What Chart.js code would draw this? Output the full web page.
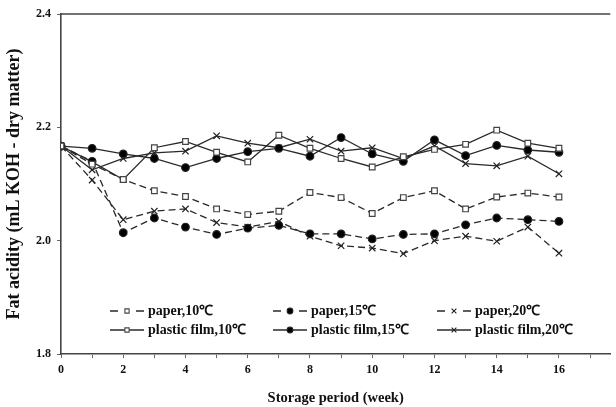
<!DOCTYPE html>
<html lang="en">
<head>
  <meta charset="UTF-8"/>
  <title>Fat acidity during storage</title>
  <style>
    body { margin: 0; padding: 0; background: #fff; }
    #wrap { position: relative; width: 616px; height: 407px; }
  </style>
</head>
<body>
<div id="wrap"><canvas id="chart" width="616" height="407"></canvas></div>

<script src="https://cdn.jsdelivr.net/npm/chart.js"></script>
<script>
const weeks   = [0, 1, 2, 3, 4, 5, 6, 7, 8, 9, 10, 11, 12, 13, 14, 15, 16];
const paper10 = [2.167, 2.135, 2.108, 2.088, 2.078, 2.056, 2.046, 2.052, 2.085, 2.076, 2.048, 2.076, 2.088, 2.056, 2.077, 2.084, 2.077];
const paper15 = [2.167, 2.140, 2.014, 2.040, 2.024, 2.011, 2.022, 2.027, 2.012, 2.012, 2.003, 2.011, 2.012, 2.028, 2.040, 2.037, 2.034];
const paper20 = [2.167, 2.107, 2.037, 2.052, 2.056, 2.032, 2.024, 2.034, 2.008, 1.991, 1.987, 1.977, 2.000, 2.008, 1.999, 2.024, 1.978];
const film10  = [2.167, 2.139, 2.108, 2.164, 2.175, 2.156, 2.139, 2.186, 2.163, 2.145, 2.130, 2.148, 2.161, 2.170, 2.195, 2.172, 2.163];
const film15  = [2.167, 2.163, 2.153, 2.145, 2.129, 2.145, 2.157, 2.163, 2.149, 2.182, 2.153, 2.140, 2.178, 2.150, 2.168, 2.160, 2.156];
const film20  = [2.167, 2.125, 2.145, 2.155, 2.158, 2.185, 2.172, 2.164, 2.179, 2.158, 2.164, 2.145, 2.167, 2.136, 2.132, 2.149, 2.118];

const seriesNames = ["paper,10℃", "paper,15℃", "paper,20℃", "plastic film,10℃", "plastic film,15℃", "plastic film,20℃"];
const seriesData  = [paper10, paper15, paper20, film10, film15, film20];

const INK = "#2a2a2a";
const FONT = "'Liberation Serif', 'Times New Roman', serif";
const DASH = [7, 4];

function makeDataset(i) {
  const shape = ["rect", "circle", "crossRot"][i % 3];
  const dashed = i < 3;
  return {
    label: seriesNames[i],
    data: weeks.map((w, k) => ({ x: w, y: seriesData[i][k] })),
    borderColor: INK,
    borderWidth: 1.3,
    borderDash: dashed ? DASH : [],
    pointStyle: shape,
    pointRadius: shape === "crossRot" ? 4.5 : (shape === "rect" ? 4 : 3.8),
    pointBackgroundColor: shape === "circle" ? "#000" : "#fff",
    pointBorderColor: shape === "rect" ? "#444" : "#222",
    pointBorderWidth: 1.2,
    tension: 0,
    fill: false
  };
}

// legend drawn inside the plot, 3 columns x 2 rows, line sample + marker
const innerLegend = {
  id: "innerLegend",
  afterDatasetsDraw(chart) {
    const ctx = chart.ctx;
    const a = chart.chartArea;
    const colX = [110, 273, 437];
    const rowY = [a.bottom - 43, a.bottom - 24];
    ctx.save();
    chart.data.datasets.forEach((ds, i) => {
      const x0 = colX[i % 3];
      const y = rowY[Math.floor(i / 3)];
      const len = 34;
      ctx.strokeStyle = INK;
      ctx.lineWidth = 1.6;
      ctx.beginPath();
      if (ds.borderDash.length) {
        ctx.moveTo(x0, y); ctx.lineTo(x0 + 8, y);
        ctx.moveTo(x0 + len - 8, y); ctx.lineTo(x0 + len, y);
      } else {
        ctx.moveTo(x0, y); ctx.lineTo(x0 + len, y);
      }
      ctx.stroke();
      ctx.fillStyle = ds.pointBackgroundColor;
      ctx.strokeStyle = ds.pointBorderColor;
      ctx.lineWidth = 1.1;
      Chart.helpers.drawPoint(ctx, { pointStyle: ds.pointStyle, radius: ds.pointRadius * 0.75, rotation: 0, borderWidth: 1.1 }, x0 + len / 2, y);
      ctx.fillStyle = "#111";
      ctx.font = "bold 14px " + FONT;
      ctx.textBaseline = "middle";
      ctx.textAlign = "left";
      ctx.fillText(ds.label, x0 + len + 4, y);
    });
    // top frame line
    ctx.strokeStyle = "#444";
    ctx.lineWidth = 1.6;
    ctx.beginPath();
    ctx.moveTo(a.left, a.top);
    ctx.lineTo(a.right, a.top);
    ctx.stroke();
    ctx.restore();
  }
};

new Chart(document.getElementById("chart"), {
  type: "line",
  data: { datasets: seriesData.map((d, i) => makeDataset(i)) },
  options: {
    responsive: false,
    animation: false,
    layout: { padding: { top: 14, right: 0, left: 0, bottom: 0 } },
    plugins: { legend: { display: false }, tooltip: { enabled: false } },
    scales: {
      x: {
        type: "linear",
        min: 0,
        max: 17.65,
        afterFit: s => { s.height = 53; },
        border: { display: true, color: "#444", width: 1.6 },
        grid: { display: true, drawOnChartArea: false, drawTicks: true, tickLength: 4, color: "#666" },
        ticks: {
          stepSize: 1,
          includeBounds: false,
          autoSkip: false,
          maxRotation: 0,
          padding: 5,
          color: "#111",
          font: { family: FONT, size: 12, weight: "bold" },
          callback: v => (v % 2 === 0 ? String(v) : "")
        },
        title: {
          display: true,
          text: "Storage period (week)",
          color: "#111",
          font: { family: FONT, size: 14.5, weight: "bold" },
          padding: { top: 6, bottom: 0 }
        }
      },
      y: {
        min: 1.8,
        max: 2.4,
        afterFit: s => { s.width = 61; },
        border: { display: true, color: "#444", width: 1.6 },
        grid: { display: true, drawOnChartArea: false, drawTicks: true, tickLength: 4, color: "#666" },
        ticks: {
          stepSize: 0.2,
          padding: 6,
          color: "#111",
          font: { family: FONT, size: 12, weight: "bold" },
          callback: v => v.toFixed(1)
        },
        title: {
          display: true,
          text: "Fat acidity (mL KOH - dry matter)",
          color: "#111",
          font: { family: FONT, size: 18, weight: "bold" },
          padding: { top: 4, bottom: 0 }
        }
      }
    }
  },
  plugins: [innerLegend]
});
</script>
</body>
</html>
